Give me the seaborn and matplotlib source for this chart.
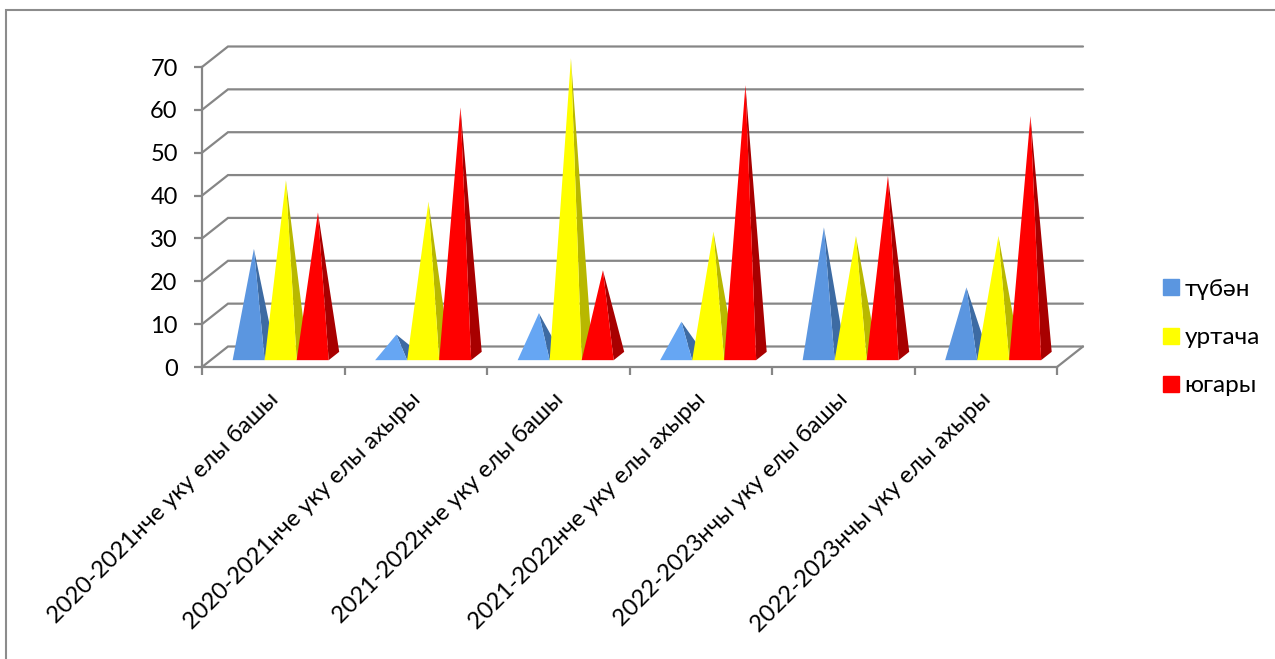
import matplotlib
matplotlib.use("Agg")
import matplotlib.pyplot as plt
import pandas as pd
import seaborn as sns
from matplotlib.patches import Patch, Rectangle
from matplotlib.transforms import ScaledTranslation

# ── Data ────────────────────────────────────────────────────────
periods = ["2020-2021нче уку елы башы", "2020-2021нче уку елы ахыры",
           "2021-2022нче уку елы башы", "2021-2022нче уку елы ахыры",
           "2022-2023нчы уку елы башы", "2022-2023нчы уку елы ахыры"]
levels = ["түбән", "уртача", "югары"]
tuben = [25, 5, 10, 8, 30, 16]
urtacha = [41, 36, 69.5, 29, 28, 28]
yugary = [33.5, 58, 20, 63.2, 42, 56]
y_ticks = [0, 10, 20, 30, 40, 50, 60, 70]

# ── Style ───────────────────────────────────────────────────────
FRONT = {"түбән": "#5B96E0", "уртача": "#FFFF00", "югары": "#FF0000"}
SIDE = {"түбән": "#3D6BA3", "уртача": "#B8B800", "югары": "#A80000"}
LIGHT_BLUE = "#66A6F3"   # the three small blue pyramids render lighter
GRID = "#868686"
LW = 1.6

sns.set_theme(style="white")
plt.rcParams["font.family"] = ["Lato", "Open Sans", "DejaVu Sans"]

df = pd.DataFrame({
    "period": periods * 3,
    "level": [lv for lv in levels for _ in periods],
    "value": tuben + urtacha + yugary,
})

fig = plt.figure(figsize=(12.75, 6.59), dpi=100)
W, H = 1275, 659
ax = fig.add_axes([202 / W, 1 - 367 / H, 855 / W, 300 / H])

# Bars give the positions, the pyramids are built on top of them
sns.barplot(data=df, x="period", y="value", hue="level", hue_order=levels,
            palette=FRONT, width=0.674, gap=0, legend=False, ax=ax)
ax.set_xlim(-0.5, 5.5)
ax.set_ylim(0, 70)

# Oblique depth of the box in data units
DX = 26 / 142.5
DY = 20.5 / (300 / 70)
NEAR_X, FAR_X = 0.285, 0.69
NEAR_Y, FAR_Y = 1 / 3, 0.74

# ── Walls ───────────────────────────────────────────────────────
for v in y_ticks:
    ax.plot([-0.5, -0.5 + DX, 5.5 + DX], [v, v + DY, v + DY],
            color=GRID, lw=LW, clip_on=False, zorder=1, solid_joinstyle="miter")
ax.plot([5.5, 5.5 + DX], [0, DY], color=GRID, lw=LW, clip_on=False, zorder=1)

# ── Pyramids ────────────────────────────────────────────────────
for container, level in zip(ax.containers, levels):
    for i, bar in enumerate(container):
        x0, w, h = bar.get_x(), bar.get_width(), bar.get_height()
        bar.set_visible(False)
        near_x, near_y = DX * NEAR_X, DY * NEAR_Y
        far_x, far_y = DX * FAR_X, DY * FAR_Y
        tip = (x0 + w / 2 + (near_x + far_x) / 2, (near_y + far_y) / 2 + h)
        front = FRONT[level]
        if level == "түбән" and i in (1, 2, 3):
            front = LIGHT_BLUE
        ax.fill([x0 + w + near_x, x0 + w + far_x, tip[0]],
                [near_y, far_y, tip[1]],
                color=SIDE[level], lw=0, zorder=3, clip_on=False)
        ax.fill([x0 + near_x, x0 + w + near_x, tip[0]],
                [near_y, near_y, tip[1]],
                color=front, lw=0, zorder=3, clip_on=False)

# ── Axes ────────────────────────────────────────────────────────
for name, sp in ax.spines.items():
    sp.set_visible(name in ("left", "bottom"))
    sp.set_color(GRID)
    sp.set_linewidth(LW)
ax.set_xlabel("")
ax.set_ylabel("")
ax.set_yticks(y_ticks)
ax.set_xticks([i - 0.5 for i in range(7)], minor=True)
ax.set_xticks(range(6))
ax.set_xticklabels(periods, rotation=45, ha="right", va="top",
                   rotation_mode="anchor", fontsize=17, color="black")
ax.tick_params(axis="x", which="major", length=0, pad=15.5)
ax.tick_params(axis="x", which="minor", length=6, width=LW, color=GRID,
               bottom=True)
ax.tick_params(axis="y", length=6, width=LW, color=GRID, left=True, pad=11.5,
               labelsize=17, labelcolor="black")
nudge = ScaledTranslation(-6 / 100, 0, fig.dpi_scale_trans)
for lab in ax.get_xticklabels():
    lab.set_transform(lab.get_transform() + nudge)

# ── Legend ──────────────────────────────────────────────────────
handles = [Patch(color=FRONT[lv], label=lv) for lv in levels]
fig.legend(handles=handles, loc="upper left", bbox_to_anchor=(1163 / W, 1 - 279 / H),
           frameon=False, fontsize=17.5, handlelength=0.64, handleheight=0.64,
           handletextpad=0.25, labelspacing=1.12, borderpad=0, borderaxespad=0,
           labelcolor="black")

# Outer frame of the chart
fig.add_artist(Rectangle((6 / W, -0.05), (W + 40) / W, 1 - 10 / H + 0.05,
                         transform=fig.transFigure, fill=False,
                         edgecolor="#8C8C8C", lw=1.5))

fig.savefig("out.png", dpi=100)
